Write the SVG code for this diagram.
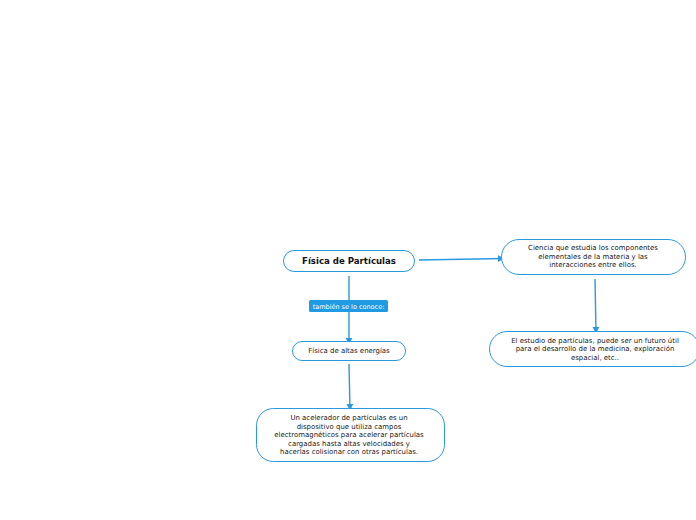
<svg xmlns="http://www.w3.org/2000/svg" width="696" height="520" viewBox="0 0 696 520">
<style>
.box{fill:#ffffff;stroke:#2a9ae0;stroke-width:1}
.t{font-family:"DejaVu Sans",Verdana,sans-serif;font-size:6.95px;fill:#222;text-anchor:middle}
.b{font-family:"DejaVu Sans",Verdana,sans-serif;font-size:8.6px;font-weight:bold;fill:#111;text-anchor:middle}
.c{stroke:#2a9ae0;stroke-width:1.4;fill:none;marker-end:url(#ar)}
.lt{font-family:"DejaVu Sans",Verdana,sans-serif;font-size:6.5px;fill:#ffffff;text-anchor:middle}
</style>
<defs>
<marker id="ar" viewBox="0 0 10 10" refX="9" refY="5" markerWidth="7" markerHeight="7" orient="auto" markerUnits="userSpaceOnUse">
<path d="M0,0 L10,5 L0,10 z" fill="#2a9ae0"/>
</marker>
</defs>
<rect width="696" height="520" fill="#ffffff"/>
<g id="connectors">
<path class="c" d="M419,260 L504,258.5"/>
<path class="c" d="M349,276 L349,344"/>
<path class="c" d="M349,364 L350,410"/>
<path class="c" d="M595,279 L596,333"/>
<rect x="309" y="300" width="79" height="12" rx="1.5" fill="#1f9be3"/>
<text class="lt" x="348.5" y="308.5">también se lo conoce:</text>
</g>
<g id="main">
<rect class="box" x="283.5" y="250.5" width="131" height="21" rx="10.5"/>
<text class="b" x="349" y="264">Física de Partículas</text>
</g>
<g id="ciencia">
<rect class="box" x="501.5" y="239.5" width="184" height="35" rx="17.5"/>
<text class="t" x="593" y="250">Ciencia que estudia los componentes</text>
<text class="t" x="593" y="258.5">elementales de la materia y las</text>
<text class="t" x="593" y="267">interacciones entre ellos.</text>
</g>
<g id="estudio">
<rect class="box" x="489.5" y="331.5" width="210" height="35" rx="17.5"/>
<text class="t" x="595" y="342.5">El estudio de partículas, puede ser un futuro útil</text>
<text class="t" x="595" y="351">para el desarrollo de la medicina, exploración</text>
<text class="t" x="595" y="359.5">espacial, etc..</text>
</g>
<g id="altas">
<rect class="box" x="292.5" y="341.5" width="113" height="19" rx="9.5"/>
<text class="t" x="349" y="353">Física de altas energías</text>
</g>
<g id="acelerador">
<rect class="box" x="256.5" y="408.5" width="188" height="53" rx="17"/>
<text class="t" x="349" y="420">Un acelerador de partículas es un</text>
<text class="t" x="349" y="428.5">dispositivo que utiliza campos</text>
<text class="t" x="349" y="437">electromagnéticos para acelerar partículas</text>
<text class="t" x="349" y="445.5">cargadas hasta altas velocidades y</text>
<text class="t" x="349" y="454">hacerlas colisionar con otras partículas.</text>
</g>
</svg>
